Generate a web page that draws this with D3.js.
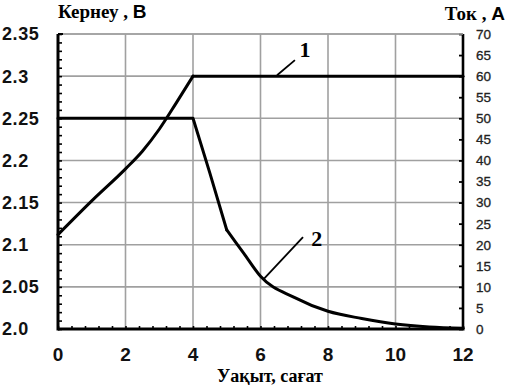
<!DOCTYPE html>
<html><head><meta charset="utf-8">
<script src="https://cdn.jsdelivr.net/npm/d3@7"></script>
<style>
body{margin:0;background:#fff;}
svg{display:block;}
</style></head>
<body><svg id="c" width="505" height="385"></svg>
<script>
// ---- data ----
const voltageHours = [0, 1, 2, 2.5, 3, 3.5, 4, 12];
const voltageValues = [2.112, 2.152, 2.19, 2.211, 2.237, 2.268, 2.3, 2.3];
const currentHours = [0, 4, 4.5, 5, 5.5, 6, 7, 8, 9, 10, 11, 12];
const currentValues = [50, 50, 37, 23.5, 18, 12.5, 7.5, 4.2, 2.5, 1.2, 0.5, 0.2];
const xTicks = [0, 2, 4, 6, 8, 10, 12];
const vTicks = [2.0, 2.05, 2.1, 2.15, 2.2, 2.25, 2.3, 2.35];
const vTickLabels = ["2.0", "2.05", "2.1", "2.15", "2.2", "2.25", "2.3", "2.35"];
const iTicks = [0, 5, 10, 15, 20, 25, 30, 35, 40, 45, 50, 55, 60, 65, 70];
const curveLabels = [
  {name: "1", axis: "v", from: [6.49, 2.301], to: [7.02, 2.319], text: [7.32, 2.323]},
  {name: "2", axis: "i", from: [6.1, 11.9], to: [7.26, 21.8], text: [7.67, 19.6]}
];

// ---- layout ----
const svg = d3.select("#c");
const x = d3.scaleLinear().domain([0, 12]).range([58, 463]);
const yV = d3.scaleLinear().domain([2.0, 2.35]).range([329, 34]);
const yI = d3.scaleLinear().domain([0, 70]).range([329, 34]);

const grid = svg.append("g");
grid.selectAll("line.vx").data(xTicks.slice(1, -1)).join("line")
  .attr("x1", d => x(d)).attr("x2", d => x(d))
  .attr("y1", yV(2.35)).attr("y2", yV(2.0))
  .attr("stroke", "#a0a0a0").attr("stroke-width", 1.6);
grid.selectAll("line.hy").data(vTicks.slice(1)).join("line")
  .attr("x1", x(0)).attr("x2", x(12))
  .attr("y1", d => yV(d)).attr("y2", d => yV(d))
  .attr("stroke", "#a0a0a0").attr("stroke-width", 1.6);

const minorV = d3.range(2.0, 2.3501, 0.01);
const minorX = d3.range(0, 12.001, 0.4);

const leftAxis = d3.axisRight(yV).tickValues(minorV).tickSize(4).tickFormat("");
const gl = svg.append("g").attr("transform", `translate(${x(0)},0)`).call(leftAxis);
gl.select(".domain").remove();
gl.selectAll("line").attr("stroke", "#000").attr("stroke-width", 1.6);

const bottomAxis = d3.axisTop(x).tickValues(minorX).tickSize(3).tickFormat("");
const gb = svg.append("g").attr("transform", `translate(0,${yV(2.0)})`).call(bottomAxis);
gb.select(".domain").remove();
gb.selectAll("line").attr("stroke", "#000").attr("stroke-width", 1.6);

const rightAxis = d3.axisLeft(yI).tickValues(iTicks).tickSize(4).tickFormat("");
const gr = svg.append("g").attr("transform", `translate(${x(12)},0)`).call(rightAxis);
gr.select(".domain").remove();
gr.selectAll("line").attr("stroke", "#000").attr("stroke-width", 1.8);

svg.append("line").attr("x1", x(0)).attr("x2", x(0)).attr("y1", yV(2.35)).attr("y2", yV(2.0) + 1.5)
  .attr("stroke", "#000").attr("stroke-width", 3);
svg.append("line").attr("x1", x(0)).attr("x2", x(12) + 1.5).attr("y1", yV(2.0)).attr("y2", yV(2.0))
  .attr("stroke", "#000").attr("stroke-width", 3);
svg.append("line").attr("x1", x(12)).attr("x2", x(12)).attr("y1", yV(2.35)).attr("y2", yV(2.0))
  .attr("stroke", "#000").attr("stroke-width", 2.6);
svg.append("line").attr("x1", x(0)).attr("x2", x(12)).attr("y1", yV(2.35)).attr("y2", yV(2.35))
  .attr("stroke", "#a0a0a0").attr("stroke-width", 1.6);
svg.append("line").attr("x1", x(0)).attr("x2", x(0) + 5).attr("y1", yV(2.35)).attr("y2", yV(2.35))
  .attr("stroke", "#000").attr("stroke-width", 2);

svg.append("g").selectAll("text").data(vTicks).join("text")
  .attr("x", 2).attr("y", d => yV(d)).attr("dy", "0.36em")
  .attr("font-family", "Liberation Sans, Arial, sans-serif").attr("font-weight", "bold")
  .attr("font-size", 18).attr("fill", "#111").attr("letter-spacing", 0.6)
  .text((d, i) => vTickLabels[i]);
svg.append("g").selectAll("text").data(xTicks).join("text")
  .attr("x", d => x(d)).attr("y", 361).attr("text-anchor", "middle")
  .attr("font-family", "Liberation Sans, Arial, sans-serif").attr("font-weight", "bold")
  .attr("font-size", 19).attr("fill", "#111")
  .text(d => d);
svg.append("g").selectAll("text").data(iTicks).join("text")
  .attr("x", 476).attr("y", d => yI(d)).attr("dy", "0.36em")
  .attr("font-family", "Liberation Sans, Arial, sans-serif")
  .attr("font-size", 13.5).attr("fill", "#222").attr("stroke", "#222").attr("stroke-width", 0.3)
  .text(d => d);

const t1 = svg.append("text").attr("x", 58).attr("y", 18)
  .attr("font-family", "Liberation Serif, Times New Roman, serif").attr("font-weight", "bold")
  .attr("font-size", 19).attr("fill", "#000");
t1.append("tspan").text("Кернеу , ");
t1.append("tspan").attr("font-family", "Liberation Sans, Arial, sans-serif").text("В");
const t2 = svg.append("text").attr("x", 505).attr("y", 20).attr("text-anchor", "end")
  .attr("font-family", "Liberation Serif, Times New Roman, serif").attr("font-weight", "bold")
  .attr("font-size", 19).attr("fill", "#000");
t2.append("tspan").text("Ток , ");
t2.append("tspan").attr("font-family", "Liberation Sans, Arial, sans-serif").text("А");
svg.append("text").attr("x", 270).attr("y", 382).attr("text-anchor", "middle")
  .attr("font-family", "Liberation Serif, Times New Roman, serif").attr("font-weight", "bold")
  .attr("font-size", 18).attr("fill", "#000").text("Уақыт, сағат");

// curves
const vPts = voltageHours.map((h, i) => [h, voltageValues[i]]);
const iPts = currentHours.map((h, i) => [h, currentValues[i]]);
const smoothV = d3.line().x(d => x(d[0])).y(d => yV(d[1])).curve(d3.curveMonotoneX);
const straightV = d3.line().x(d => x(d[0])).y(d => yV(d[1]));
const smoothI = d3.line().x(d => x(d[0])).y(d => yI(d[1])).curve(d3.curveMonotoneX);
const straightI = d3.line().x(d => x(d[0])).y(d => yI(d[1]));
function drawPath(pts, gen) {
  svg.append("path").datum(pts).attr("d", gen).attr("fill", "none")
    .attr("stroke", "#000").attr("stroke-width", 3)
    .attr("stroke-linejoin", "round").attr("stroke-linecap", "round");
}
drawPath(vPts.filter(d => d[0] <= 4), smoothV);
drawPath(vPts.filter(d => d[0] >= 4), straightV);
drawPath(iPts.filter(d => d[0] <= 5), straightI);
drawPath(iPts.filter(d => d[0] >= 5), smoothI);

curveLabels.forEach(c => {
  const y = c.axis === "v" ? yV : yI;
  svg.append("line").attr("x1", x(c.from[0])).attr("y1", y(c.from[1]))
    .attr("x2", x(c.to[0])).attr("y2", y(c.to[1]))
    .attr("stroke", "#000").attr("stroke-width", 1.8);
  svg.append("text").attr("x", x(c.text[0])).attr("y", y(c.text[1])).attr("text-anchor", "middle")
    .attr("font-family", "Liberation Serif, Times New Roman, serif").attr("font-weight", "bold")
    .attr("font-size", 22).attr("fill", "#000").text(c.name);
});
</script></body></html>
